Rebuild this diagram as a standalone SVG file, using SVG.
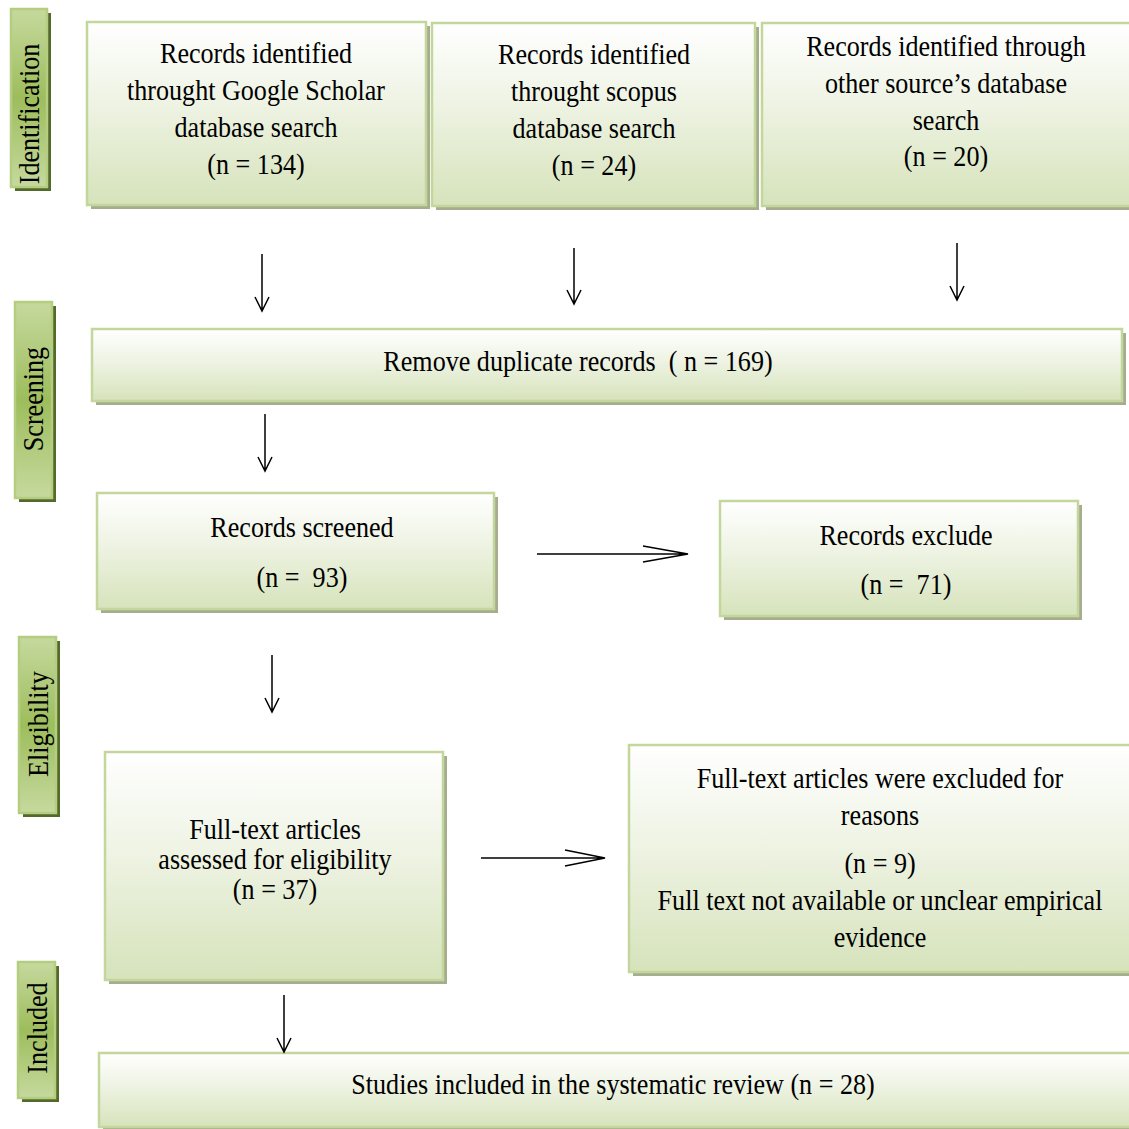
<svg xmlns="http://www.w3.org/2000/svg" width="1129" height="1129" viewBox="0 0 1129 1129">
<defs>
<linearGradient id="boxG" x1="0" y1="0" x2="0" y2="1">
<stop offset="0" stop-color="#ffffff"/>
<stop offset="0.45" stop-color="#eef3e3"/>
<stop offset="1" stop-color="#d6e3bb"/>
</linearGradient>
<linearGradient id="barG" x1="0" y1="0" x2="0" y2="1">
<stop offset="0" stop-color="#c6d99e"/>
<stop offset="0.5" stop-color="#9dbd5c"/>
<stop offset="1" stop-color="#c6d99e"/>
</linearGradient>
<style>
.box{fill:url(#boxG);stroke:#c3d69b;stroke-width:2.5}
.sh{fill:#a6ad8e}
.bar{fill:url(#barG);stroke:#b4cd80;stroke-width:2.5}
.bsh{fill:#546a2a}
.t{font-family:"Liberation Serif","Times New Roman",serif;font-size:29px;fill:#000;text-anchor:middle}
.ln{stroke:#000;stroke-width:1.5;fill:none}
</style>
</defs>

<g id="stage-identification">
<rect class="bsh" x="15" y="13" width="36" height="178"/>
<rect class="bar" x="11" y="9" width="36" height="178"/>
<text class="t" transform="translate(39 114) rotate(-90) scale(0.9 1)">Identification</text>
</g>
<g id="stage-screening">
<rect class="bsh" x="19" y="306" width="37" height="196"/>
<rect class="bar" x="15" y="302" width="37" height="196"/>
<text class="t" transform="translate(43 399) rotate(-90) scale(0.9 1)">Screening</text>
</g>
<g id="stage-eligibility">
<rect class="bsh" x="23" y="641" width="37" height="176"/>
<rect class="bar" x="19" y="637" width="37" height="176"/>
<text class="t" transform="translate(48 724) rotate(-90) scale(0.9 1)">Eligibility</text>
</g>
<g id="stage-included">
<rect class="bsh" x="22" y="966" width="37" height="136"/>
<rect class="bar" x="18" y="962" width="37" height="136"/>
<text class="t" transform="translate(47 1028) rotate(-90) scale(0.9 1)">Included</text>
</g>

<g id="node-google">
<rect class="sh" x="91" y="26" width="339" height="183"/>
<rect class="box" x="87" y="22" width="339" height="183"/>
<text class="t" transform="translate(256 0) scale(0.9 1)"><tspan x="0" y="63">Records identified</tspan><tspan x="0" y="100">throught Google Scholar</tspan><tspan x="0" y="137">database search</tspan><tspan x="0" y="174">(n = 134)</tspan></text>
</g>
<g id="node-scopus">
<rect class="sh" x="436" y="27" width="323" height="183"/>
<rect class="box" x="432" y="23" width="323" height="183"/>
<text class="t" transform="translate(594 0) scale(0.9 1)"><tspan x="0" y="64">Records identified</tspan><tspan x="0" y="101">throught scopus</tspan><tspan x="0" y="138">database search</tspan><tspan x="0" y="175">(n = 24)</tspan></text>
</g>
<g id="node-other">
<rect class="sh" x="766" y="27" width="370" height="183"/>
<rect class="box" x="762" y="23" width="372" height="183"/>
<text class="t" transform="translate(946 0) scale(0.9 1)"><tspan x="0" y="56">Records identified through</tspan><tspan x="0" y="93">other source’s database</tspan><tspan x="0" y="130">search</tspan><tspan x="0" y="166">(n = 20)</tspan></text>
</g>
<g id="node-duplicates">
<rect class="sh" x="96" y="333" width="1030" height="72"/>
<rect class="box" x="92" y="329" width="1030" height="72"/>
<text class="t" transform="translate(578 371) scale(0.9 1)" xml:space="preserve">Remove duplicate records  ( n = 169)</text>
</g>
<g id="node-screened">
<rect class="sh" x="101" y="497" width="397" height="116"/>
<rect class="box" x="97" y="493" width="397" height="116"/>
<text class="t" transform="translate(302 0) scale(0.9 1)" xml:space="preserve"><tspan x="0" y="537">Records screened</tspan><tspan x="0" y="587">(n =  93)</tspan></text>
</g>
<g id="node-exclude">
<rect class="sh" x="724" y="505" width="358" height="115"/>
<rect class="box" x="720" y="501" width="358" height="115"/>
<text class="t" transform="translate(906 0) scale(0.9 1)" xml:space="preserve"><tspan x="0" y="545">Records exclude</tspan><tspan x="0" y="594">(n =  71)</tspan></text>
</g>
<g id="node-assessed">
<rect class="sh" x="109" y="756" width="338" height="228"/>
<rect class="box" x="105" y="752" width="338" height="228"/>
<text class="t" transform="translate(275 0) scale(0.9 1)"><tspan x="0" y="839">Full-text articles</tspan><tspan x="0" y="869">assessed for eligibility</tspan><tspan x="0" y="899">(n = 37)</tspan></text>
</g>
<g id="node-fulltext-excluded">
<rect class="sh" x="633" y="749" width="500" height="227"/>
<rect class="box" x="629" y="745" width="504" height="227"/>
<text class="t" transform="translate(880 0) scale(0.9 1)"><tspan x="0" y="788">Full-text articles were excluded for</tspan><tspan x="0" y="825">reasons</tspan><tspan x="0" y="873">(n = 9)</tspan><tspan x="0" y="910">Full text not available or unclear empirical</tspan><tspan x="0" y="947">evidence</tspan></text>
</g>
<g id="node-included">
<rect class="sh" x="103" y="1057" width="1030" height="74"/>
<rect class="box" x="99" y="1053" width="1034" height="74"/>
<text class="t" transform="translate(613 1094) scale(0.9 1)">Studies included in the systematic review (n = 28)</text>
</g>

<g id="connectors">
<path class="ln" d="M262 254V311M255 297L262 311L269 297"/>
<path class="ln" d="M574 248V304M567 290L574 304L581 290"/>
<path class="ln" d="M957 243V300M950 286L957 300L964 286"/>
<path class="ln" d="M265 414V471M258 457L265 471L272 457"/>
<path class="ln" d="M272 655V712M265 698L272 712L279 698"/>
<path class="ln" d="M284 995V1052M277 1038L284 1052L291 1038"/>
<path class="ln" d="M537 554H688M643 546L688 554L643 562"/>
<path class="ln" d="M481 858H605M565 850L605 858L565 866"/>
</g>
</svg>
